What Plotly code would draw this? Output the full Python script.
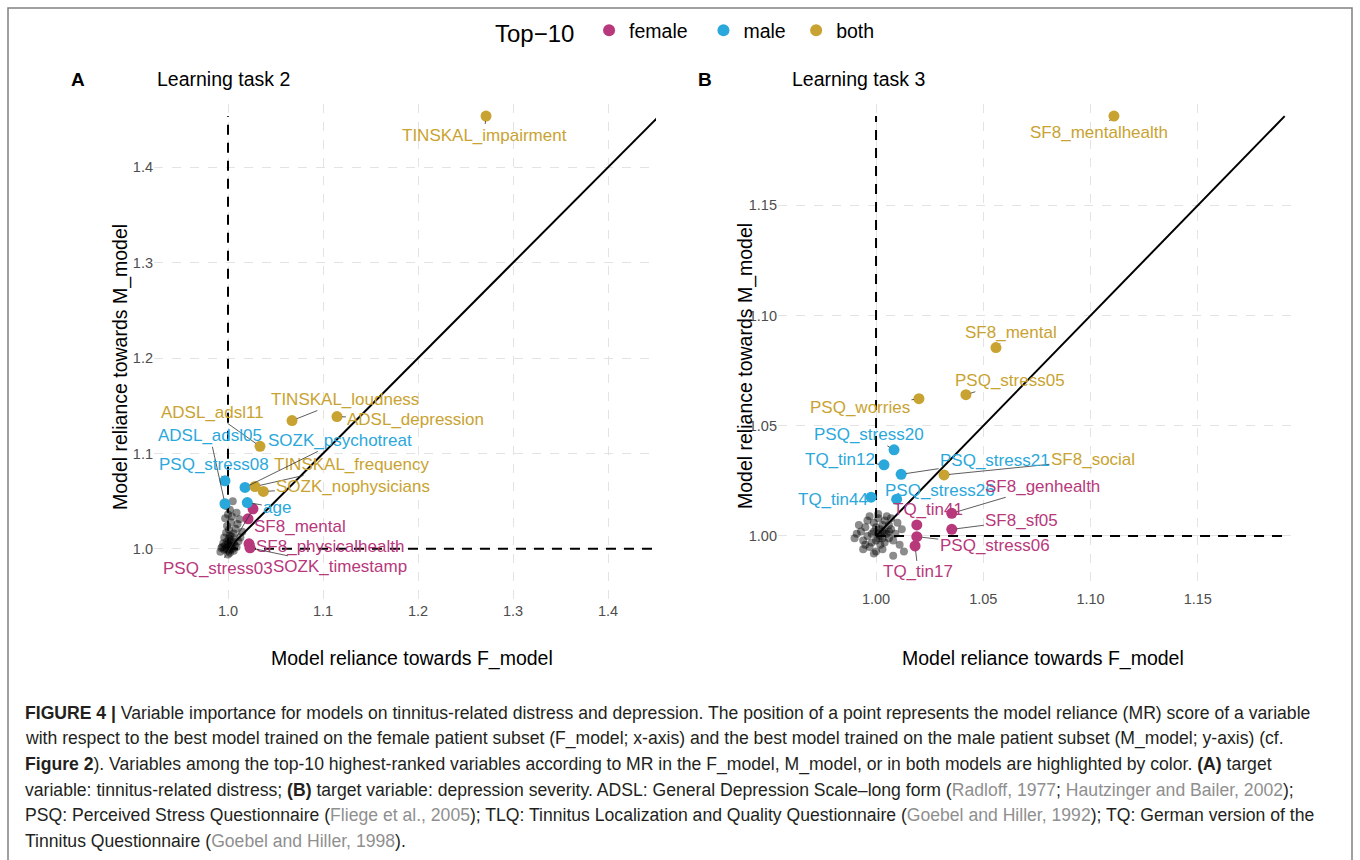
import plotly.graph_objects as go

# ---------------- data ----------------
GROUPS = ["female", "male", "both"]

# Panel A: Learning task 2 (highlighted variables)
A_labels = ["TINSKAL_impairment", "TINSKAL_loudness", "ADSL_depression", "ADSL_adsl11",
            "TINSKAL_frequency", "SOZK_nophysicians",
            "SOZK_psychotreat", "ADSL_adsl05", "PSQ_stress08", "age",
            "SF8_mental", "SF8_physicalhealth", "PSQ_stress03", "SOZK_timestamp"]
A_group = ["both", "both", "both", "both", "both", "both",
           "male", "male", "male", "male",
           "female", "female", "female", "female"]
A_x = [1.2716, 1.0674, 1.1147, 1.0337, 1.0284, 1.0372,
       1.0179, 0.9968, 0.9968, 1.0203,
       1.0211, 1.0221, 1.0263, 1.0232]
A_y = [1.4538, 1.1345, 1.1387, 1.1075, 1.0654, 1.0602,
       1.0644, 1.0473, 1.0714, 1.0486,
       1.0315, 1.0053, 1.0420, 1.0011]

# Panel A: remaining variables (grey)
A_gray_x = [0.998, 1.001, 1.003, 0.996, 1.005, 1.000, 0.994, 1.002, 1.007, 0.999,
            1.004, 0.992, 1.001, 1.006, 0.997, 1.003, 1.009, 0.995, 1.000, 1.002,
            0.998, 1.011, 1.004, 0.993, 1.001, 1.006, 0.999, 1.003, 1.013, 0.997,
            1.000, 1.002, 1.008, 1.004, 0.996, 1.001, 1.010, 1.015, 1.003, 0.999,
            1.006, 1.012, 1.009, 0.998, 1.005]
A_gray_y = [1.001, 0.998, 1.003, 0.999, 1.000, 1.005, 1.002, 0.996, 1.004, 1.008,
            1.006, 0.997, 1.011, 0.998, 1.004, 1.009, 1.002, 1.006, 0.994, 1.014,
            1.017, 1.008, 1.013, 1.001, 1.020, 1.016, 1.024, 1.028, 1.012, 1.032,
            1.036, 1.041, 1.021, 1.034, 1.012, 1.003, 1.026, 1.018, 1.000, 0.999,
            1.007, 1.031, 1.038, 1.045, 1.050]

# Panel B: Learning task 3 (highlighted variables)
B_labels = ["SF8_mentalhealth", "SF8_mental", "PSQ_stress05", "PSQ_worries", "SF8_social",
            "PSQ_stress20", "TQ_tin12", "PSQ_stress21", "PSQ_stress26", "TQ_tin44",
            "SF8_genhealth", "TQ_tin41", "SF8_sf05", "PSQ_stress06", "TQ_tin17"]
B_group = ["both", "both", "both", "both", "both",
           "male", "male", "male", "male", "male",
           "female", "female", "female", "female", "female"]
B_x = [1.1109, 1.0559, 1.0419, 1.0200, 1.0317,
       1.0084, 1.0037, 1.0117, 1.0096, 0.9977,
       1.0353, 1.0190, 1.0353, 1.0190, 1.0182]
B_y = [1.1905, 1.0855, 1.0641, 1.0623, 1.0277,
       1.0391, 1.0323, 1.0280, 1.0167, 1.0176,
       1.0103, 1.0050, 1.0030, 0.9997, 0.9955]

# Panel B: remaining variables (grey)
B_gray_x = [0.998, 1.001, 1.003, 0.996, 1.005, 1.000, 0.994, 1.002, 1.007, 0.999,
            1.004, 0.991, 1.001, 1.006, 0.997, 1.003, 1.009, 0.995, 1.000, 1.002,
            0.998, 1.011, 1.004, 0.993, 1.001, 1.006, 0.999, 1.003, 1.012, 0.997,
            1.000, 1.002, 1.008, 1.004, 0.996, 0.990, 1.010, 1.013, 1.003, 0.999,
            1.006, 1.008, 0.995, 1.001, 1.005, 0.992, 1.007, 0.994]
B_gray_y = [1.001, 0.999, 1.002, 1.000, 1.001, 1.004, 0.998, 0.996, 1.003, 1.006,
            0.997, 1.001, 1.008, 0.999, 0.995, 1.005, 1.001, 1.004, 0.993, 1.003,
            0.997, 0.996, 1.007, 1.002, 1.001, 1.005, 1.002, 0.994, 1.003, 1.009,
            0.998, 1.000, 0.998, 1.002, 1.007, 0.999, 1.006, 0.993, 0.999, 0.992,
            1.002, 0.991, 0.996, 1.010, 1.009, 1.005, 1.008, 0.994]

A_xticks = [1.0, 1.1, 1.2, 1.3, 1.4]
A_yticks = [1.0, 1.1, 1.2, 1.3, 1.4]
B_xticks = [1.00, 1.05, 1.10, 1.15]
B_yticks = [1.00, 1.05, 1.10, 1.15]

# ---------------- style ----------------
COLORS = {"female": "#B8387C", "male": "#2BA8DB", "both": "#C9A331"}
LEGEND_PAD = {"female": "\u00a0\u00a0", "male": "\u00a0", "both": ""}
W, H = 1360, 860
FONT = "Liberation Sans, Arial, sans-serif"
CAPFONT = "Liberation Sans, Arial, sans-serif"

# label offsets (pixels, label centre relative to point) -- mimic ggrepel layout
A_off = {"TINSKAL_impairment": (-2, 19), "TINSKAL_loudness": (53, -21),
         "ADSL_depression": (79, 3), "ADSL_adsl11": (-48, -34),
         "TINSKAL_frequency": (97, -22), "SOZK_nophysicians": (90, -5),
         "SOZK_psychotreat": (95, -47), "ADSL_adsl05": (-15, -68),
         "PSQ_stress08": (-11, -16), "age": (30, 5), "SF8_mental": (52, 8),
         "SF8_physicalhealth": (81, 3), "PSQ_stress03": (-35, 60),
         "SOZK_timestamp": (90, 19)}
B_off = {"SF8_mentalhealth": (-15, 16), "SF8_mental": (15, -15),
         "PSQ_stress05": (44, -14), "PSQ_worries": (-59, 9),
         "SF8_social": (149, -15), "PSQ_stress20": (-25, -15),
         "TQ_tin12": (-44, -5), "PSQ_stress21": (94, -14),
         "PSQ_stress26": (43, -9), "TQ_tin44": (-38, 2),
         "SF8_genhealth": (91, -27), "TQ_tin41": (11, -15),
         "SF8_sf05": (70, -9), "PSQ_stress06": (78, 9), "TQ_tin17": (3, 26)}

# panel pixel boxes (left, top, right, bottom)
A_box = (154, 104, 656, 600)
B_box = (778, 104, 1295, 588)
A_range_x = [0.9221, 1.4505]
A_range_y = [0.9464, 1.4664]
B_range_x = [0.9543, 1.1953]
B_range_y = [0.9764, 1.1960]

fig = go.Figure()


def add_panel(xs, ys, gx, gy, labels, groups, offs, k, showlegend):
    xr, yr = "x" + ("" if k == 1 else str(k)), "y" + ("" if k == 1 else str(k))
    fig.add_trace(go.Scatter(x=gx, y=gy, mode="markers", xaxis=xr, yaxis=yr,
                             marker=dict(size=8, color="rgba(0,0,0,0.45)"),
                             showlegend=False, hoverinfo="skip"))
    m = max(max(xs), max(ys))
    lo = 1.0
    fig.add_trace(go.Scatter(x=[lo, m], y=[lo, m], mode="lines", xaxis=xr, yaxis=yr,
                             line=dict(color="black", width=2), showlegend=False,
                             hoverinfo="skip"))
    fig.add_trace(go.Scatter(x=[lo, m], y=[lo, lo], mode="lines", xaxis=xr, yaxis=yr,
                             line=dict(color="black", width=2, dash="10px,8px"),
                             showlegend=False, hoverinfo="skip"))
    fig.add_trace(go.Scatter(x=[lo, lo], y=[lo, m], mode="lines", xaxis=xr, yaxis=yr,
                             line=dict(color="black", width=2, dash="10px,8px"),
                             showlegend=False, hoverinfo="skip"))
    for g in GROUPS:
        idx = [i for i, gg in enumerate(groups) if gg == g]
        fig.add_trace(go.Scatter(x=[xs[i] for i in idx], y=[ys[i] for i in idx],
                                 mode="markers", xaxis=xr, yaxis=yr,
                                 name=g + LEGEND_PAD[g],
                                 marker=dict(size=11, color=COLORS[g]),
                                 showlegend=showlegend, legendgroup=g,
                                 text=[labels[i] for i in idx]))
    for i, lab in enumerate(labels):
        ax, ay = offs[lab]
        fig.add_annotation(x=xs[i], y=ys[i], xref=xr, yref=yr, text=lab,
                           showarrow=True, ax=ax, ay=ay, arrowhead=0,
                           arrowwidth=0.8, arrowcolor="#333333", standoff=5,
                           font=dict(family=FONT, size=17, color=COLORS[groups[i]]))


add_panel(A_x, A_y, A_gray_x, A_gray_y, A_labels, A_group, A_off, 1, True)
add_panel(B_x, B_y, B_gray_x, B_gray_y, B_labels, B_group, B_off, 2, False)

axis_common = dict(showgrid=True, gridcolor="#e3e3e3", gridwidth=1, griddash="dash",
                   zeroline=False, showline=False, ticks="",
                   tickfont=dict(family=FONT, size=14.5, color="#4d4d4d"))


def dom_x(box):
    return [box[0] / W, box[2] / W]


def dom_y(box):
    return [1 - box[3] / H, 1 - box[1] / H]


fig.update_layout(
    width=W, height=H, margin=dict(l=0, r=0, t=0, b=0),
    paper_bgcolor="white", plot_bgcolor="white",
    font=dict(family=FONT, color="black"),
    xaxis=dict(domain=dom_x(A_box), range=A_range_x, tickvals=A_xticks,
               ticktext=[f"{v:.1f}" for v in A_xticks], anchor="y", **axis_common),
    yaxis=dict(domain=dom_y(A_box), range=A_range_y, tickvals=A_yticks,
               ticktext=[f"{v:.1f}" for v in A_yticks], anchor="x", **axis_common),
    xaxis2=dict(domain=dom_x(B_box), range=B_range_x, tickvals=B_xticks,
                ticktext=[f"{v:.2f}" for v in B_xticks], anchor="y2", **axis_common),
    yaxis2=dict(domain=dom_y(B_box), range=B_range_y, tickvals=B_yticks,
                ticktext=[f"{v:.2f}" for v in B_yticks], anchor="x2", **axis_common),
    legend=dict(orientation="h", x=493 / W, xanchor="left", y=1 - 32 / H, yanchor="middle",
                title=dict(text="Top\u221210 ", font=dict(size=24, color="black"), side="left"),
                font=dict(size=19.5, color="black"), itemsizing="constant",
                bgcolor="rgba(0,0,0,0)"),
    showlegend=True,
)


def ann(text, x, y, size, xanchor="center", **kw):
    fig.add_annotation(text=text, x=x / W, y=1 - y / H, xref="paper", yref="paper",
                       xanchor=xanchor, yanchor="middle", showarrow=False,
                       font=dict(family=FONT, size=size, color="black"), **kw)


ann("<b>A</b>", 78, 79, 19)
ann("Learning task 2", 155, 79, 19.5, xanchor="left")
ann("<b>B</b>", 705, 79, 19)
ann("Learning task 3", 790, 79, 19.5, xanchor="left")
ann("Model reliance towards F_model", 412, 658, 19.5)
ann("Model reliance towards F_model", 1043, 658, 19.5)
ann("Model reliance towards M_model", 120, 367, 19.5, textangle=-90)
ann("Model reliance towards M_model", 745, 366, 19.5, textangle=-90)

# outer frame
fig.add_shape(type="rect", xref="paper", yref="paper", x0=8 / W, x1=1352 / W,
              y0=-0.05, y1=1 - 8 / H, line=dict(color="#808080", width=1.5),
              fillcolor="rgba(0,0,0,0)", layer="above")

# caption
G = '<span style="color:#8f8f8f">'
E = '</span>'
cap = [
    "<b>FIGURE 4 |</b> Variable importance for models on tinnitus-related distress and depression. The position of a point represents the model reliance (MR) score of a variable",
    "with respect to the best model trained on the female patient subset (F_model; x-axis) and the best model trained on the male patient subset (M_model; y-axis) (cf.",
    "<b>Figure 2</b>). Variables among the top-10 highest-ranked variables according to MR in the F_model, M_model, or in both models are highlighted by color. <b>(A)</b> target",
    "variable: tinnitus-related distress; <b>(B)</b> target variable: depression severity. ADSL: General Depression Scale\u2013long form (" + G + "Radloff, 1977" + E + "; " + G + "Hautzinger and Bailer, 2002" + E + ");",
    "PSQ: Perceived Stress Questionnaire (" + G + "Fliege et al., 2005" + E + "); TLQ: Tinnitus Localization and Quality Questionnaire (" + G + "Goebel and Hiller, 1992" + E + "); TQ: German version of the",
    "Tinnitus Questionnaire (" + G + "Goebel and Hiller, 1998" + E + ").",
]
for i, line in enumerate(cap):
    fig.add_annotation(text=line, x=23 / W, y=1 - (713 + i * 25.6) / H, xref="paper",
                       yref="paper", xanchor="left", yanchor="middle", showarrow=False,
                       font=dict(family=CAPFONT, size=17.6, color="#231f20"))

fig.write_html("out.html", config={"displayModeBar": False},
               post_script="document.body.style.margin='0';")
